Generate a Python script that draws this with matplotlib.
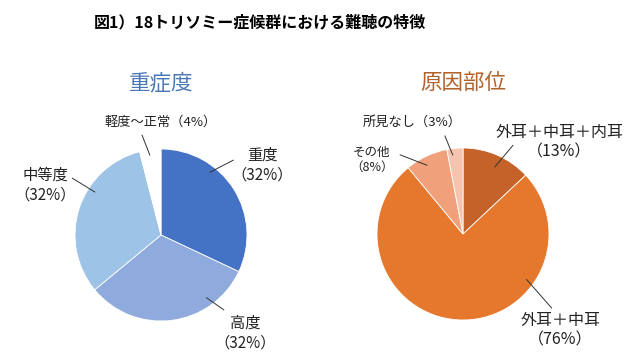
import matplotlib.pyplot as plt

plt.rcParams['font.family'] = ['Noto Sans CJK JP', 'DejaVu Sans']

title = '図1）18トリソミー症候群における難聴の特徴'

# left pie: severity
sev_title = '重症度'
sev_labels = ['重度\n（32%）', '高度\n（32%）', '中等度\n（32%）', '軽度～正常（4%）']
sev_values = [32, 32, 32, 4]
sev_colors = ['#4472C4', '#8FAADC', '#9DC3E6', '#FFFFFF']

# right pie: site
site_title = '原因部位'
site_labels = ['外耳＋中耳＋内耳\n（13%）', '外耳＋中耳\n（76%）', 'その他\n（8%）', '所見なし（3%）']
site_values = [13, 76, 8, 3]
site_colors = ['#C4622A', '#E5782C', '#F0A07A', '#F6C3AE']

# label layout (data units, pie radius = 1): text pos, leader start, leader end, size
sev_layout = [
    ((1.18, 0.81), (0.57, 0.73), (0.84, 0.87), 11),
    ((0.98, -1.14), (0.53, -0.73), (0.73, -0.87), 11),
    ((-1.35, 0.58), (-0.77, 0.50), (-1.03, 0.66), 11),
    ((-0.01, 1.31), (-0.13, 0.93), (-0.22, 1.16), 9.5),
]
site_layout = [
    ((1.12, 1.07), (0.37, 0.78), (0.58, 1.03), 11.5),
    ((1.13, -1.12), (0.74, -0.53), (1.03, -0.86), 11.5),
    ((-1.06, 0.86), (-0.42, 0.80), (-0.73, 0.92), 9),
    ((-0.59, 1.30), (-0.12, 0.92), (-0.21, 1.14), 9.5),
]

fig = plt.figure(figsize=(6.4, 3.6), dpi=100)
fig.text(260 / 640, 0.939, title, ha='center', va='center', fontsize=11.5, fontweight='bold')

W, H = 640, 360
span = 1.6 * 86


def draw_pie(cx, cy, values, colors, labels, layout, head, head_color):
    ax = fig.add_axes([(cx - span) / W, (H - cy - span) / H, 2 * span / W, 2 * span / H])
    ax.pie(values, colors=colors, startangle=90, counterclock=False, radius=1,
           wedgeprops=dict(edgecolor='white', linewidth=0.6))
    ax.set_xlim(-1.6, 1.6)
    ax.set_ylim(-1.6, 1.6)
    ax.set_aspect('equal')
    ax.axis('off')
    for lab, (tp, p0, p1, fs) in zip(labels, layout):
        ax.plot([p0[0], p1[0]], [p0[1], p1[1]], color='#333333', lw=0.7, clip_on=False)
        ax.text(tp[0], tp[1], lab, ha='center', va='center', fontsize=fs,
                linespacing=1.2, color='#222222', clip_on=False)
    fig.text(cx / W, 1 - 83 / H, head, ha='center', va='center', fontsize=15.5, color=head_color)


draw_pie(161, 235, sev_values, sev_colors, sev_labels, sev_layout, sev_title, '#4A78B4')
draw_pie(463, 234, site_values, site_colors, site_labels, site_layout, site_title, '#B0622C')

fig.savefig('out.png', dpi=100)
